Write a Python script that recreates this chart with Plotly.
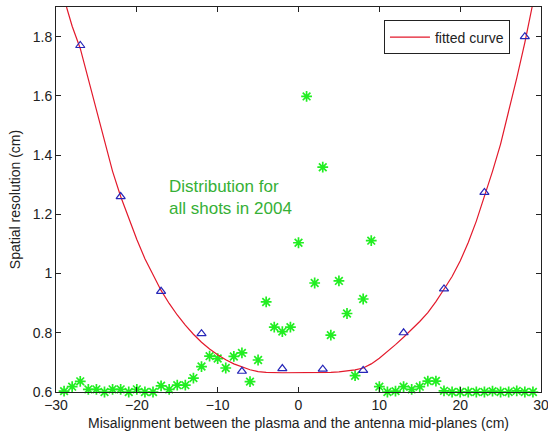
import plotly.graph_objects as go

# Green stars: distribution for all shots in 2004
shot_x = list(range(-29, 30))
shot_y = [0.603, 0.618, 0.636, 0.609, 0.609, 0.600, 0.609, 0.609, 0.600, 0.609,
          0.600, 0.600, 0.621, 0.609, 0.623, 0.623, 0.647, 0.686, 0.721, 0.713,
          0.681, 0.720, 0.732, 0.635, 0.708, 0.904, 0.819, 0.804, 0.819,
          1.104, 1.598, 0.968, 1.359, 0.792, 0.975, 0.865, 0.655, 0.914, 1.111,
          0.618, 0.600, 0.603, 0.618, 0.609, 0.618, 0.637, 0.637, 0.604, 0.600,
          0.600, 0.600, 0.600, 0.600, 0.603, 0.600, 0.600, 0.604, 0.600, 0.600]

# Blue triangles: measured resolution
meas_x = [-27, -22, -17, -12, -7, -2, 3, 8, 13, 18, 23, 28]
meas_y = [1.77, 1.26, 0.94, 0.797, 0.67, 0.679, 0.677, 0.673, 0.80, 0.948, 1.274, 1.80]

# Red fitted curve
fit_x = [-28.7, -28, -27, -26, -25, -24, -23, -22, -21, -20, -19, -18, -17, -16,
         -15, -14, -13, -12, -11, -10, -9, -8, -7, -6, -5, -4, -2, 0, 2, 4,
         5, 6, 7, 8, 9, 10, 11, 12, 13, 14, 15, 16, 17, 18, 19, 20, 21, 22,
         23, 24, 25, 26, 27, 28, 28.9]
fit_y = [1.90, 1.835, 1.76, 1.655, 1.55, 1.445, 1.345, 1.26, 1.185, 1.115, 1.05,
         0.995, 0.943, 0.899, 0.860, 0.826, 0.795, 0.768, 0.745, 0.726, 0.709,
         0.695, 0.684, 0.675, 0.669, 0.666, 0.665, 0.665, 0.665, 0.666,
         0.668, 0.671, 0.675, 0.681, 0.695, 0.714, 0.736, 0.76, 0.785, 0.811,
         0.838, 0.868, 0.905, 0.947, 0.99, 1.042, 1.105, 1.177, 1.258, 1.345,
         1.437, 1.545, 1.66, 1.78, 1.90]

x_ticks = [-30, -20, -10, 0, 10, 20, 30]
y_ticks = [0.6, 0.8, 1.0, 1.2, 1.4, 1.6, 1.8]
y_tick_text = ["0.6", "0.8", "1", "1.2", "1.4", "1.6", "1.8"]

FONT = "Liberation Sans, Arial, sans-serif"

fig = go.Figure()

fig.add_trace(go.Scatter(
    x=shot_x, y=shot_y, mode="markers", showlegend=False,
    marker=dict(symbol="asterisk-open", size=9, color="#22ee22",
                line=dict(color="#22ee22", width=1.7)),
    cliponaxis=False,
))

fig.add_trace(go.Scatter(
    x=fit_x, y=fit_y, mode="lines", name="fitted curve",
    line=dict(color="#e3192b", width=1.2),
))

fig.add_trace(go.Scatter(
    x=meas_x, y=meas_y, mode="markers", showlegend=False,
    marker=dict(symbol="triangle-up-open", size=8, color="#2626b8",
                line=dict(color="#2626b8", width=1.2)),
))

fig.add_annotation(
    x=-16.3, y=1.258, xref="x", yref="y",
    text="Distribution for<br>all shots in 2004",
    showarrow=False, xanchor="left", yanchor="middle", align="left",
    font=dict(family=FONT, size=17, color="#36b036"),
)

axis_common = dict(
    showline=True, linecolor="#222", linewidth=1, mirror="ticks",
    ticks="inside", ticklen=5, tickcolor="#222", tickwidth=1,
    showgrid=False, zeroline=False, automargin=False,
    ticklabeloverflow="allow",
    tickfont=dict(family=FONT, size=14, color="#222"),
)

fig.update_xaxes(
    range=[-30, 30], tickvals=x_ticks,
    title=dict(text="Misalignment between the plasma and the antenna mid-planes (cm)",
               font=dict(family=FONT, size=14, color="#222"), standoff=6),
    **axis_common,
)
fig.update_yaxes(
    range=[0.6, 1.9], tickvals=y_ticks, ticktext=y_tick_text,
    title=dict(text="Spatial resolution (cm)",
               font=dict(family=FONT, size=14, color="#222"), standoff=8),
    **axis_common,
)

fig.update_layout(
    width=548, height=434,
    margin=dict(l=56, r=7, t=7, b=42),
    paper_bgcolor="white", plot_bgcolor="white",
    font=dict(family=FONT, size=14, color="#222"),
    legend=dict(x=0.936, y=0.965, xanchor="right", yanchor="top",
                bgcolor="white", bordercolor="#222", borderwidth=1,
                font=dict(family=FONT, size=14, color="#222"),
                itemwidth=40, tracegroupgap=0),
)

fig.write_html("out.html")
